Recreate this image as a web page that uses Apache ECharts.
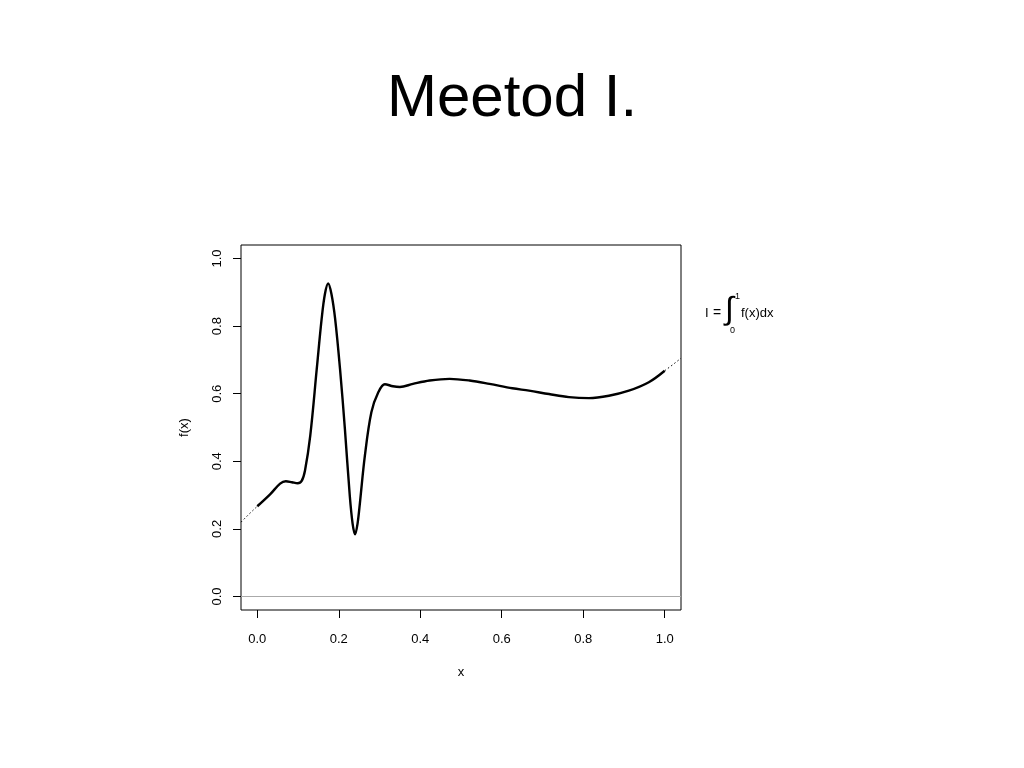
<!DOCTYPE html>
<html>
<head>
<meta charset="utf-8">
<script src="https://cdn.jsdelivr.net/npm/echarts@6/dist/echarts.min.js"></script>
<style>html,body{margin:0;padding:0;background:#fff;}#c{width:1024px;height:768px;}</style>
</head>
<body>
<div id="c"></div>
<script>
// Data
const titleText = "Meetod I.";
const xTickValues = [0, 0.2, 0.4, 0.6, 0.8, 1.0];
const xTickLabels = ["0.0", "0.2", "0.4", "0.6", "0.8", "1.0"];
const yTickValues = [0, 0.2, 0.4, 0.6, 0.8, 1.0];
const yTickLabels = ["0.0", "0.2", "0.4", "0.6", "0.8", "1.0"];
const axisMin = -0.04;
const axisMax = 1.04;

// dotted extension left of 0
const leftX = [-0.04, -0.02, 0.0];
const leftY = [0.220, 0.244, 0.267];
// solid curve on [0,1]
const mainX = [0.0, 0.032, 0.056, 0.070, 0.085, 0.099, 0.109, 0.117, 0.130, 0.146, 0.158, 0.166, 0.174, 0.182, 0.191, 0.203, 0.215, 0.227, 0.234, 0.240, 0.246, 0.252, 0.264, 0.280, 0.297, 0.313, 0.333, 0.350, 0.382, 0.423, 0.472, 0.521, 0.570, 0.626, 0.667, 0.716, 0.765, 0.814, 0.863, 0.912, 0.961, 1.0];
const mainY = [0.267, 0.303, 0.334, 0.341, 0.338, 0.335, 0.342, 0.372, 0.476, 0.674, 0.822, 0.895, 0.926, 0.895, 0.822, 0.674, 0.496, 0.298, 0.215, 0.184, 0.215, 0.278, 0.416, 0.545, 0.604, 0.628, 0.622, 0.620, 0.629, 0.639, 0.644, 0.639, 0.629, 0.616, 0.609, 0.599, 0.590, 0.587, 0.594, 0.609, 0.634, 0.668];
// dotted extension right of 1
const rightX = [1.0, 1.02, 1.04];
const rightY = [0.668, 0.686, 0.705];
// reference line f(x)=0
const zeroX = [-0.04, 1.04];
const zeroY = [0, 0];

const zip = (a, b) => a.map((v, i) => [v, b[i]]);
const font = "'Liberation Sans', Arial, Helvetica, sans-serif";

const chart = echarts.init(document.getElementById('c'), null, {renderer: 'canvas'});
chart.setOption({
  animation: false,
  backgroundColor: '#ffffff',
  title: {
    text: titleText,
    left: 'center',
    top: 64,
    textStyle: {fontFamily: font, fontSize: 60, fontWeight: 'normal', color: '#000'}
  },
  grid: {left: 241, right: 343, top: 245, bottom: 158, show: true, borderColor: '#000', borderWidth: 1, backgroundColor: 'transparent'},
  xAxis: {
    type: 'value', min: axisMin, max: axisMax, position: 'bottom',
    name: 'x', nameLocation: 'middle', nameGap: 56,
    nameTextStyle: {fontFamily: font, fontSize: 13, color: '#000'},
    axisLine: {show: false, onZero: false},
    splitLine: {show: false},
    axisTick: {show: true, inside: false, length: 8, lineStyle: {color: '#000', width: 1}, customValues: xTickValues},
    axisLabel: {show: true, margin: 23, fontFamily: font, fontSize: 13, color: '#000', customValues: xTickValues,
      formatter: v => { const i = xTickValues.findIndex(t => Math.abs(t - v) < 1e-9); return i >= 0 ? xTickLabels[i] : ''; }}
  },
  yAxis: {
    type: 'value', min: axisMin, max: axisMax, position: 'left',
    name: 'f(x)', nameLocation: 'middle', nameGap: 50, nameRotate: 90,
    nameTextStyle: {fontFamily: font, fontSize: 13, color: '#000'},
    axisLine: {show: false, onZero: false},
    splitLine: {show: false},
    axisTick: {show: true, inside: false, length: 8, lineStyle: {color: '#000', width: 1}, customValues: yTickValues},
    axisLabel: {show: true, margin: 17, rotate: 90, fontFamily: font, fontSize: 13, color: '#000', customValues: yTickValues,
      formatter: v => { const i = yTickValues.findIndex(t => Math.abs(t - v) < 1e-9); return i >= 0 ? yTickLabels[i] : ''; }}
  },
  series: [
    {type: 'line', data: zip(zeroX, zeroY), showSymbol: false, lineStyle: {color: '#aaaaaa', width: 1.2}, z: 1, silent: true},
    {type: 'line', data: zip(leftX, leftY), showSymbol: false, lineStyle: {color: '#000', width: 1, type: [1.5, 2.5]}, z: 2, silent: true},
    {type: 'line', data: zip(mainX, mainY), showSymbol: false, smooth: 0.35, lineStyle: {color: '#000', width: 2.4}, z: 3, silent: true},
    {type: 'line', data: zip(rightX, rightY), showSymbol: false, lineStyle: {color: '#000', width: 1, type: [1.5, 2.5]}, z: 2, silent: true}
  ],
  graphic: [
    {type: 'text', left: 705, top: 307, style: {text: 'I', font: '13px ' + font, fill: '#000'}},
    {type: 'text', left: 713, top: 306, style: {text: '=', font: '14px ' + font, fill: '#000'}},
    {type: 'text', left: 725, top: 294, style: {text: '\u222B', font: '32px ' + font, fill: '#000'}},
    {type: 'text', left: 735, top: 292, style: {text: '1', font: '9px ' + font, fill: '#000'}},
    {type: 'text', left: 730, top: 326, style: {text: '0', font: '9px ' + font, fill: '#000'}},
    {type: 'text', left: 741, top: 307, style: {text: 'f(x)dx', font: '13px ' + font, fill: '#000'}}
  ]
});
</script>
</body>
</html>
